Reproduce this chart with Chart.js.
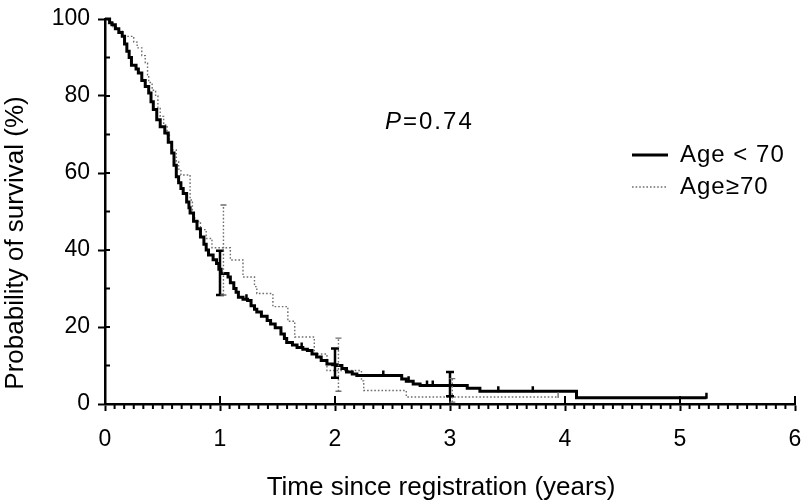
<!DOCTYPE html>
<html lang="en">
<head>
<meta charset="UTF-8">
<title>Survival by age group</title>
<script src="https://cdn.jsdelivr.net/npm/chart.js"></script>
<style>
    html, body { margin: 0; padding: 0; background: #fff; }
    #wrap { width: 802px; height: 501px; }
</style>
</head>
<body>
<div id="wrap"><canvas id="km" width="802" height="501"></canvas></div>
<script>
// Age < 70 : Kaplan-Meier steps (years, % surviving)
const youngTimes = [0, 0.04, 0.06, 0.09, 0.12, 0.15, 0.17, 0.19, 0.21, 0.23, 0.27, 0.29, 0.32, 0.35, 0.38, 0.40, 0.42, 0.45, 0.48, 0.52, 0.55, 0.58, 0.60, 0.62, 0.64, 0.66, 0.68, 0.71, 0.73, 0.74, 0.77, 0.80, 0.83, 0.86, 0.88, 0.90, 0.94, 0.97, 0.99, 1.01, 1.07, 1.09, 1.12, 1.14, 1.16, 1.20, 1.24, 1.27, 1.30, 1.32, 1.36, 1.41, 1.44, 1.48, 1.53, 1.56, 1.58, 1.63, 1.67, 1.72, 1.76, 1.80, 1.84, 1.88, 1.93, 1.98, 2.02, 2.06, 2.10, 2.15, 2.19, 2.58, 2.62, 2.68, 2.74, 3.15, 3.26, 4.10, 5.23];
const youngSurv = [100, 99, 98.5, 97.5, 96.5, 95.5, 93.5, 91.6, 90, 88, 87, 86, 84, 82.5, 80.8, 78.5, 76.5, 73.8, 72, 70.4, 68, 65.2, 62, 59, 57.5, 56, 54.7, 52.5, 51, 49.6, 47.5, 45.5, 43.4, 41.5, 40, 38.7, 37.5, 36.5, 35, 33.9, 33, 31.5, 30, 29, 27.7, 27.2, 26.9, 25.5, 24.6, 23.9, 22.8, 21.7, 20.8, 19.8, 18.2, 17, 16, 15.3, 14.7, 14.2, 13.9, 13, 12.2, 11.3, 10.4, 10.2, 10, 9.2, 8.3, 7.8, 7.4, 6.5, 5.9, 5.2, 4.8, 4.1, 3.3, 1.6, 1.6];
const youngCensor = [1.23, 1.71, 2.42, 2.64, 2.80, 2.85, 3.42, 3.72, 5.23];
const youngCiTimes = [1, 2, 3];
const youngCiLow = [28.3, 6.8, 2.0];
const youngCiHigh = [39.8, 14.4, 8.3];

// Age >= 70
const oldTimes = [0, 0.03, 0.07, 0.11, 0.15, 0.25, 0.28, 0.32, 0.35, 0.37, 0.38, 0.41, 0.44, 0.46, 0.48, 0.51, 0.54, 0.56, 0.58, 0.62, 0.64, 0.66, 0.74, 0.76, 0.78, 0.83, 0.88, 0.93, 1.09, 1.20, 1.30, 1.32, 1.46, 1.59, 1.65, 1.82, 1.93, 2.23, 2.25, 2.62, 3.94];
const oldSurv = [100, 99, 98, 97, 95.5, 94, 92.5, 90.5, 88.5, 85.5, 83.5, 81.5, 80, 77, 74.7, 72.5, 70, 68, 66, 63, 61, 59.5, 53, 49, 47.4, 45.3, 43, 40.6, 37.4, 33, 30.5, 28.7, 25.3, 21.5, 17.4, 13, 8.7, 6, 3.5, 1.8, 1.8];
const oldCensor = [3.94];
const oldCiTimes = [1.03, 2.03, 3.02];
const oldCiLow = [28.3, 3.3, 0.5];
const oldCiHigh = [51.7, 17.1, 6.6];

const xTicks = [0, 1, 2, 3, 4, 5, 6];
const yTicks = [0, 20, 40, 60, 80, 100];
const seriesLabels = ['Age < 70', 'Age\u226570'];
const xTitle = 'Time since registration (years)';
const yTitle = 'Probability of survival (%)';

const SOLID = { color: '#000', width: 3, dash: [] };
const DOTTED = { color: '#6e6e6e', width: 1.4, dash: [1.6, 2] };

function stepAt(times, surv, t) {
    let v = surv[0];
    for (let i = 0; i < times.length; i++) { if (times[i] <= t) v = surv[i]; }
    return v;
}

const extras = {
    id: 'extras',
    afterDatasetsDraw(chart) {
        const { ctx, scales: { x, y } } = chart;
        ctx.save();
        // axis minor ticks and inner parts of the major ones
        ctx.strokeStyle = '#000';
        ctx.lineWidth = 2;
        ctx.beginPath();
        for (let m = 1; m < 72; m++) {
            if (m % 12 === 0) continue;
            const px = x.getPixelForValue(m / 12);
            ctx.moveTo(px, y.bottom); ctx.lineTo(px, y.bottom + 5);
        }
        xTicks.forEach(v => {
            const px = x.getPixelForValue(v);
            ctx.moveTo(px, y.bottom); ctx.lineTo(px, y.bottom - 8);
        });
        for (let v = 10; v < 100; v += 20) {
            const py = y.getPixelForValue(v);
            ctx.moveTo(x.left, py); ctx.lineTo(x.left + 5, py);
        }
        yTicks.forEach(v => {
            const py = y.getPixelForValue(v);
            ctx.moveTo(x.left, py); ctx.lineTo(x.left + 5, py);
        });
        ctx.stroke();

        // confidence bars and censor marks
        const groups = [
            { style: SOLID, bw: 2.5, ciT: youngCiTimes, lo: youngCiLow, hi: youngCiHigh, cen: youngCensor, times: youngTimes, surv: youngSurv, cap: 4 },
            { style: DOTTED, bw: 1.4, ciT: oldCiTimes, lo: oldCiLow, hi: oldCiHigh, cen: oldCensor, times: oldTimes, surv: oldSurv, cap: 3 }
        ];
        groups.forEach(g => {
            ctx.strokeStyle = g.style.color;
            ctx.lineWidth = g.bw;
            ctx.setLineDash(g.style.dash);
            ctx.beginPath();
            g.ciT.forEach((t, i) => {
                const px = x.getPixelForValue(t);
                ctx.moveTo(px, y.getPixelForValue(g.lo[i]));
                ctx.lineTo(px, y.getPixelForValue(g.hi[i]));
            });
            ctx.stroke();
            ctx.setLineDash([]);
            ctx.beginPath();
            g.ciT.forEach((t, i) => {
                const px = x.getPixelForValue(t);
                [g.lo[i], g.hi[i]].forEach(v => {
                    const py = y.getPixelForValue(v);
                    ctx.moveTo(px - g.cap, py); ctx.lineTo(px + g.cap, py);
                });
            });
            g.cen.forEach(t => {
                const px = x.getPixelForValue(t);
                const py = y.getPixelForValue(stepAt(g.times, g.surv, t));
                ctx.moveTo(px, py + 1); ctx.lineTo(px, py - 5);
            });
            ctx.stroke();
        });
        ctx.restore();
    },
    afterDraw(chart) {
        const { ctx } = chart;
        ctx.save();
        ctx.fillStyle = '#000';
        ctx.textBaseline = 'middle';

        // axis titles
        ctx.font = '26px "Liberation Sans", Arial, sans-serif';
        ctx.textAlign = 'center';
        ctx.fillText(xTitle, 441, 488);
        ctx.save();
        ctx.translate(16, 243);
        ctx.rotate(-Math.PI / 2);
        ctx.fillText(yTitle, 0, 0);
        ctx.restore();

        // P value
        ctx.textAlign = 'left';
        ctx.font = 'italic 24px "Liberation Sans", Arial, sans-serif';
        ctx.fillText('P', 385, 122);
        const pw = ctx.measureText('P').width;
        ctx.font = '24px "Liberation Sans", Arial, sans-serif';
        ctx.letterSpacing = '2px';
        ctx.fillText('=0.74', 385 + pw + 2, 122);

        // legend
        ctx.letterSpacing = '1px';
        const rows = [{ y: 155, s: SOLID, w: 3 }, { y: 187, s: DOTTED, w: 1.4 }];
        rows.forEach((r, i) => {
            ctx.strokeStyle = r.s.color;
            ctx.lineWidth = r.w;
            ctx.setLineDash(r.s.dash);
            ctx.beginPath();
            ctx.moveTo(632, r.y); ctx.lineTo(668, r.y);
            ctx.stroke();
            ctx.setLineDash([]);
            ctx.fillText(chart.data.datasets[i].label, 680, r.y);
        });
        ctx.restore();
    }
};

new Chart(document.getElementById('km'), {
    type: 'line',
    data: {
        datasets: [
            {
                label: seriesLabels[0],
                data: youngTimes.map((t, i) => ({ x: t, y: youngSurv[i] })),
                stepped: 'before',
                borderColor: SOLID.color,
                borderWidth: SOLID.width,
                pointRadius: 0,
                fill: false,
                clip: false
            },
            {
                label: seriesLabels[1],
                data: oldTimes.map((t, i) => ({ x: t, y: oldSurv[i] })),
                stepped: 'before',
                borderColor: DOTTED.color,
                borderWidth: DOTTED.width,
                borderDash: DOTTED.dash,
                pointRadius: 0,
                fill: false,
                clip: false
            }
        ]
    },
    options: {
        responsive: false,
        animation: false,
        devicePixelRatio: 1,
        layout: { padding: { top: 19, right: 7, left: 0, bottom: 0 } },
        plugins: { legend: { display: false }, tooltip: { enabled: false } },
        scales: {
            x: {
                type: 'linear',
                min: 0, max: 6,
                afterBuildTicks: s => { s.ticks = xTicks.map(v => ({ value: v })); },
                afterFit: s => { s.height = 97; s.paddingLeft = 0; s.paddingRight = 0; },
                ticks: { color: '#000', padding: 15, font: { size: 23, family: '"Liberation Sans", Arial, sans-serif' } },
                grid: { drawOnChartArea: false, tickLength: 7, tickColor: '#000', tickWidth: 2 },
                border: { color: '#000', width: 2.5 }
            },
            y: {
                min: 0, max: 100,
                afterBuildTicks: s => { s.ticks = yTicks.map(v => ({ value: v })); },
                afterFit: s => { s.width = 105; s.paddingTop = 0; s.paddingBottom = 0; },
                ticks: { color: '#000', padding: 8, font: { size: 23, family: '"Liberation Sans", Arial, sans-serif' } },
                grid: { drawOnChartArea: false, tickLength: 7, tickColor: '#000', tickWidth: 2 },
                border: { color: '#000', width: 2.5 }
            }
        }
    },
    plugins: [extras]
});
</script>
</body>
</html>
